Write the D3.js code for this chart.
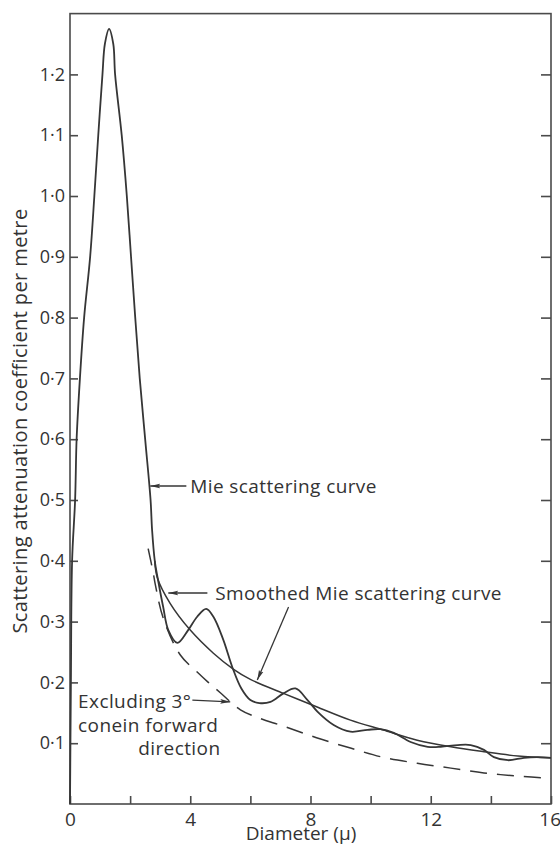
<!DOCTYPE html>
<html>
<head>
<meta charset="utf-8">
<script src="https://cdn.jsdelivr.net/npm/d3@7"></script>
<style>
  body { margin: 0; background: #fff; }
  svg { display: block; font-family: 'Open Sans', Lato, sans-serif; }
  .tick text { font-family: 'Open Sans', Lato, sans-serif; fill: #333; }
</style>
</head>
<body>
<div class="holder"></div>
<script>
const mieX = [0, 0.03, 0.07, 0.17, 0.22, 0.33, 0.47, 0.67, 0.81, 0.94, 1.08, 1.16, 1.3, 1.44, 1.5, 1.72, 1.89, 2.03, 2.17, 2.32, 2.5, 2.68, 2.73, 2.82, 2.93, 3.1, 3.27, 3.57, 3.93, 4.23, 4.53, 4.77, 5.1, 5.4, 5.7, 6.0, 6.3, 6.67, 7.1, 7.5, 7.9, 8.23, 8.77, 9.33, 9.9, 10.33, 10.77, 11.33, 11.9, 12.33, 12.9, 13.33, 13.77, 14.1, 14.57, 15.1, 15.57, 16];
const mieY = [0, 0.2, 0.4, 0.5, 0.6, 0.7, 0.8, 0.9, 1.0, 1.1, 1.2, 1.25, 1.275, 1.25, 1.2, 1.1, 1.0, 0.9, 0.8, 0.7, 0.6, 0.5, 0.451, 0.4, 0.368, 0.324, 0.286, 0.265, 0.286, 0.308, 0.321, 0.308, 0.27, 0.225, 0.19, 0.171, 0.166, 0.168, 0.182, 0.19, 0.171, 0.152, 0.13, 0.119, 0.122, 0.123, 0.117, 0.102, 0.094, 0.094, 0.097, 0.097, 0.089, 0.077, 0.072, 0.076, 0.077, 0.076];

const smoothX = [2.82, 2.9, 3.33, 4.0, 4.77, 5.43, 6.0, 7.1, 8.2, 9.33, 10.4, 11.55, 12.67, 13.77, 14.9, 16];
const smoothY = [0.4, 0.373, 0.33, 0.286, 0.248, 0.222, 0.205, 0.182, 0.16, 0.138, 0.122, 0.105, 0.094, 0.086, 0.079, 0.076];

const coneX = [2.6, 2.77, 2.83, 3.1, 3.67, 4.23, 4.6, 5.0, 5.67, 6.2, 7.1, 8.2, 9.33, 10.4, 11.55, 12.67, 13.77, 14.9, 16];
const coneY = [0.42, 0.38, 0.363, 0.306, 0.245, 0.217, 0.2, 0.183, 0.155, 0.143, 0.128, 0.109, 0.092, 0.077, 0.067, 0.059, 0.051, 0.046, 0.042];

const yTicks = [0.1, 0.2, 0.3, 0.4, 0.5, 0.6, 0.7, 0.8, 0.9, 1.0, 1.1, 1.2];
const yTickLabels = ['0·1', '0·2', '0·3', '0·4', '0·5', '0·6', '0·7', '0·8', '0·9', '1·0', '1·1', '1·2'];
const xTicks = [0, 2, 4, 6, 8, 10, 12, 14, 16];
const xTickLabels = ['0', '', '4', '', '8', '', '12', '', '16'];

const xLabel = 'Diameter (\u03bc)';
const yLabel = 'Scattering attenuation coefficient per metre';

// arrows: [fromX, fromY, toX, toY] in data units
const arrows = [
  [3.87, 0.523, 2.67, 0.523],
  [4.57, 0.347, 3.27, 0.347],
  [7.27, 0.324, 6.23, 0.204],
  [4.07, 0.171, 5.33, 0.168]
];
// notes: [text, x, y] in data units
const notes = [
  ['Mie scattering curve', 4.0, 0.523],
  ['Smoothed Mie scattering curve', 4.83, 0.347],
  ['Excluding 3\u00b0', 0.27, 0.169],
  ['conein forward', 0.27, 0.13],
  ['direction', 2.27, 0.092]
];

const width = 560;
const height = 847;
const ink = '#363636';
const frame = '#4a4a4a';

const svg = d3
  .select('.holder')
  .append('svg')
  .attr('width', width)
  .attr('height', height);

const xScale = d3.scaleLinear().domain([0, 16]).range([70, 551]);
const yScale = d3.scaleLinear().domain([0, 1.3]).range([804, 13.6]);

svg
  .append('defs')
  .append('marker')
  .attr('id', 'head')
  .attr('viewBox', '0 0 10 6')
  .attr('refX', 10)
  .attr('refY', 3)
  .attr('markerWidth', 10)
  .attr('markerHeight', 6)
  .attr('markerUnits', 'userSpaceOnUse')
  .attr('orient', 'auto')
  .append('path')
  .attr('d', 'M0,0.6L10,3L0,5.4L2,3Z')
  .attr('fill', ink);

// frame
svg
  .append('rect')
  .attr('x', xScale(0))
  .attr('y', yScale(1.3))
  .attr('width', xScale(16) - xScale(0))
  .attr('height', yScale(0) - yScale(1.3))
  .attr('fill', 'none')
  .attr('stroke', frame)
  .attr('stroke-width', 1.6);

const yAxis = d3
  .axisLeft(yScale)
  .tickValues(yTicks)
  .tickSize(-8)
  .tickSizeOuter(0)
  .tickPadding(5)
  .tickFormat((d, i) => yTickLabels[i]);

const gy = svg
  .append('g')
  .attr('transform', `translate(${xScale(0)},0)`)
  .call(yAxis);
gy.select('.domain').remove();
gy.selectAll('.tick line').attr('stroke', frame).attr('stroke-width', 1.6);
gy.selectAll('.tick text').style('font-size', '18px');

const yAxisRight = d3
  .axisRight(yScale)
  .tickValues(yTicks)
  .tickSize(-10)
  .tickSizeOuter(0)
  .tickFormat('');

const gr = svg
  .append('g')
  .attr('transform', `translate(${xScale(16)},0)`)
  .call(yAxisRight);
gr.select('.domain').remove();
gr.selectAll('.tick line').attr('stroke', frame).attr('stroke-width', 1.6);

const xAxis = d3
  .axisBottom(xScale)
  .tickValues(xTicks)
  .tickSize(-8)
  .tickSizeOuter(0)
  .tickPadding(9)
  .tickFormat((d, i) => xTickLabels[i]);

const gx = svg
  .append('g')
  .attr('transform', `translate(0,${yScale(0)})`)
  .call(xAxis);
gx.select('.domain').remove();
gx.selectAll('.tick line').attr('stroke', frame).attr('stroke-width', 1.6);
gx.selectAll('.tick text')
  .style('font-size', '19px')
  .attr('text-anchor', (d, i) => (i === xTicks.length - 1 ? 'end' : 'middle'))
  .attr('dx', (d, i) => (i === xTicks.length - 1 ? '0.5em' : 0));

svg
  .append('text')
  .attr('x', 301)
  .attr('y', 840)
  .attr('text-anchor', 'middle')
  .style('font-size', '19px')
  .attr('fill', '#333')
  .text(xLabel);

svg
  .append('text')
  .attr('transform', 'translate(27,421) rotate(-90)')
  .attr('text-anchor', 'middle')
  .style('font-size', '20px')
  .style('letter-spacing', '0.4px')
  .attr('fill', '#333')
  .text(yLabel);

const line = d3
  .line()
  .x(d => xScale(d[0]))
  .y(d => yScale(d[1]))
  .curve(d3.curveCatmullRom.alpha(0.5));

svg
  .append('path')
  .datum(mieX.map((x, i) => [x, mieY[i]]))
  .attr('d', line)
  .attr('fill', 'none')
  .attr('stroke', ink)
  .attr('stroke-width', 1.8);

svg
  .append('path')
  .datum(smoothX.map((x, i) => [x, smoothY[i]]))
  .attr('d', line)
  .attr('fill', 'none')
  .attr('stroke', ink)
  .attr('stroke-width', 1.5);

svg
  .append('path')
  .datum(coneX.map((x, i) => [x, coneY[i]]))
  .attr('d', line)
  .attr('fill', 'none')
  .attr('stroke', ink)
  .attr('stroke-width', 1.5)
  .attr('stroke-dasharray', '17,10');

svg
  .selectAll('.arrow')
  .data(arrows)
  .enter()
  .append('line')
  .attr('class', 'arrow')
  .attr('x1', d => xScale(d[0]))
  .attr('y1', d => yScale(d[1]))
  .attr('x2', d => xScale(d[2]))
  .attr('y2', d => yScale(d[3]))
  .attr('stroke', ink)
  .attr('stroke-width', 1.3)
  .attr('marker-end', 'url(#head)');

svg
  .selectAll('.note')
  .data(notes)
  .enter()
  .append('text')
  .attr('class', 'note')
  .attr('x', d => xScale(d[1]))
  .attr('y', d => yScale(d[2]))
  .attr('dy', '0.35em')
  .style('font-size', '19px')
  .style('letter-spacing', '0.4px')
  .attr('fill', '#333')
  .text(d => d[0]);
</script>
</body>
</html>
